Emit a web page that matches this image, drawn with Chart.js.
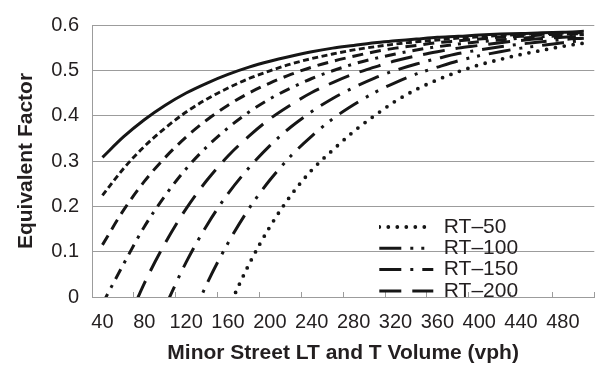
<!DOCTYPE html>
<html><head><meta charset="utf-8">
<script src="https://cdn.jsdelivr.net/npm/chart.js@4.4.0/dist/chart.umd.min.js"></script>
<style>html,body{margin:0;padding:0;background:#fff}#wrap{width:613px;height:370px;position:relative}</style>
</head><body><div id="wrap"><canvas id="c"></canvas></div>
<script>
// ---- data ----
const xValues = [40,60,80,100,120,140,160,180,200,220,240,260,280,300,320,340,360,380,400,420,440,460,480,500];
const seriesNames = ['RT–50','RT–100','RT–150','RT–200','RT–250','RT–300','RT–350','RT–400'];
const rt50  = [null,null,null,null,null,null,-0.026,0.072,0.155,0.224,0.280,0.324,0.365,0.400,0.432,0.458,0.479,0.497,0.512,0.524,0.535,0.544,0.553,0.560];
const rt100 = [null,null,null,null,-0.076,0.030,0.119,0.195,0.258,0.311,0.355,0.393,0.424,0.451,0.473,0.492,0.507,0.521,0.532,0.541,0.549,0.555,0.561,0.566];
const rt150 = [null,null,null,-0.021,0.077,0.159,0.228,0.285,0.334,0.375,0.409,0.438,0.462,0.483,0.500,0.514,0.526,0.537,0.545,0.552,0.558,0.563,0.568,0.571];
const rt200 = [null,-0.076,0.030,0.119,0.195,0.258,0.311,0.355,0.393,0.424,0.451,0.473,0.492,0.507,0.521,0.532,0.541,0.549,0.555,0.561,0.566,0.570,0.573,0.576];
const rt250 = [-0.015,0.072,0.155,0.224,0.283,0.332,0.373,0.408,0.437,0.461,0.482,0.499,0.514,0.526,0.536,0.545,0.552,0.558,0.563,0.567,0.571,0.574,0.577,0.579];
const rt300 = [0.115,0.191,0.255,0.308,0.353,0.391,0.423,0.450,0.472,0.491,0.507,0.520,0.531,0.541,0.549,0.555,0.561,0.565,0.569,0.573,0.575,0.578,0.580,0.581];
const rt350 = [0.224,0.283,0.332,0.373,0.408,0.437,0.461,0.482,0.499,0.514,0.526,0.536,0.545,0.552,0.558,0.563,0.567,0.571,0.574,0.577,0.579,0.581,0.582,0.583];
const rt400 = [0.308,0.353,0.391,0.423,0.450,0.472,0.491,0.507,0.520,0.531,0.541,0.549,0.555,0.561,0.565,0.569,0.573,0.575,0.578,0.580,0.581,0.583,0.584,0.586];
const xTickLabels = [40,80,120,160,200,240,280,320,360,400,440,480];
const xTickMarks  = [70,110,150,190,230,270,310,350,390,430,470,510];
const yTickStep = 0.1;
const legendCount = 4;

// ---- styling ----
const FONT = "'Liberation Sans', Arial, sans-serif";
const INK = '#231f20';
const LINE = '#161616';
const GRID = '#9c9c9c';
const allSeries = [rt50, rt100, rt150, rt200, rt250, rt300, rt350, rt400];
const dashes = [[0, 9], [22, 9, 3, 8, 3, 9], [22, 9, 3, 9], [22, 11], [11, 7, 3, 7], [11, 7], [6, 3.5], []];
const widths = [3.8, 3, 3, 3, 3, 3, 2.9, 3];

const datasets = allSeries.map((d, i) => ({
  label: seriesNames[i],
  data: d,
  borderColor: LINE,
  backgroundColor: LINE,
  borderWidth: widths[i],
  borderDash: dashes[i],
  borderCapStyle: i === 0 ? 'round' : 'butt',
  pointRadius: 0,
  pointHoverRadius: 0,
  pointStyle: 'line',
  cubicInterpolationMode: 'monotone',
  fill: false
}));

const labelSet = new Set(xTickLabels);
const markSet = new Set(xTickMarks);

const legendPlacer = {
  id: 'legendPlacer',
  beforeDraw(chart) {
    const lg = chart.legend, ca = chart.chartArea;
    if (!lg) return;
    lg.left = ca.left + 287; lg.top = ca.top + 191.2;
    lg.width = 220; lg.height = 100;
    lg.right = lg.left + lg.width; lg.bottom = lg.top + lg.height;
  }
};

new Chart(document.getElementById('c'), {
  type: 'line',
  data: { labels: xValues, datasets },
  plugins: [legendPlacer],
  options: {
    responsive: true, maintainAspectRatio: false, animation: false,
    layout: { padding: { left: 0, right: 4, top: 19, bottom: 0 } },
    plugins: {
      tooltip: { enabled: false },
      legend: {
        position: 'chartArea', align: 'start',
        labels: {
          usePointStyle: true, pointStyleWidth: 54, boxHeight: 21, padding: 0.3,
          color: INK, font: { family: FONT, size: 21 },
          generateLabels: (chart) => chart.data.datasets.slice(0, legendCount).map((ds, i) => ({
            text: ds.label, fillStyle: 'rgba(0,0,0,0)', strokeStyle: ds.borderColor,
            lineWidth: ds.borderWidth, lineDash: ds.borderDash, lineCap: ds.borderCapStyle,
            lineDashOffset: 0, lineJoin: 'miter', pointStyle: 'line', rotation: 0,
            hidden: false, datasetIndex: i, fontColor: INK
          }))
        }
      }
    },
    scales: {
      x: {
        type: 'linear', min: 30, max: 510,
        afterBuildTicks: (s) => { s.ticks = xTickLabels.concat(xTickMarks).sort((a, b) => a - b).map(v => ({ value: v })); },
        afterFit: (s) => { s.height = 73; },
        grid: { drawOnChartArea: false, drawTicks: true, tickLength: -5, tickWidth: 1,
                tickColor: (ctx) => (ctx.tick && markSet.has(ctx.tick.value)) ? GRID : 'rgba(0,0,0,0)' },
        border: { color: GRID, width: 1 },
        ticks: { autoSkip: false, maxRotation: 0, minRotation: 0, padding: 18.7, color: INK,
                 font: { family: FONT, size: 20 },
                 callback: (v) => labelSet.has(v) ? String(v) : '' },
        title: { display: true, text: 'Minor Street LT and T Volume (vph)', color: INK,
                 font: { family: FONT, size: 21, weight: 'bold' }, padding: { top: 0, bottom: 4.4 } }
      },
      y: {
        min: 0, max: 0.6,
        afterFit: (s) => { s.width = 92; },
        ticks: { stepSize: yTickStep, padding: 13, color: INK, font: { family: FONT, size: 20 } },
        grid: { color: GRID, lineWidth: 1, drawTicks: false },
        border: { color: GRID, width: 1 },
        title: { display: true, text: 'Equivalent Factor', color: INK,
                 font: { family: FONT, size: 21, weight: 'bold' }, padding: { top: 13.2, bottom: 0 } }
      }
    }
  }
});
</script></body></html>
